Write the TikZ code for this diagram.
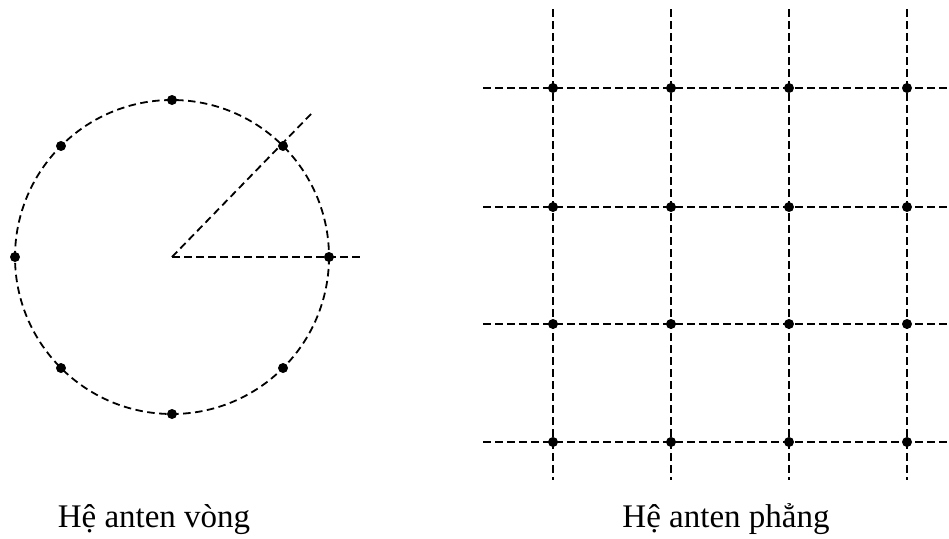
\documentclass[tikz,border=0pt]{standalone}
\usepackage{fontspec}
\setmainfont{Liberation Serif}
\usetikzlibrary{calc}
\begin{document}
\begin{tikzpicture}[x=1pt,y=-1pt,
  dline/.style={line width=1.8pt,dash pattern=on 7.5pt off 4.5pt},
  dot/.style={circle,fill=black,inner sep=0pt,minimum size=10pt},
  lbl/.style={font=\fontsize{33}{36}\selectfont,anchor=base}]
\useasboundingbox (0,0) rectangle (949,538);
% ring array
\coordinate (c) at (172,257);
\draw[dline] (c) circle[radius=157];
\foreach \a [count=\i] in {0,45,...,315}
  \node[dot] (r\i) at ($(c)+(\a:157)$) {};
\coordinate (hend) at (360,257);
\coordinate (dend) at (312,113);
\draw[dline] (c) -- (hend);
\draw[dline] (c) -- (dend);
% planar array
\foreach \x [count=\i] in {553,671,789,907}{
  \coordinate (vt\i) at (\x,9);
  \coordinate (vb\i) at (\x,480);
  \draw[dline] (vt\i) -- (vb\i);
}
\foreach \y [count=\j] in {88,207,324,442}{
  \coordinate (hl\j) at (483,\y);
  \coordinate (hr\j) at (949,\y);
  \draw[dline] (hl\j) -- (hr\j);
}
\foreach \x [count=\i] in {553,671,789,907}
  \foreach \y [count=\j] in {88,207,324,442}
    \node[dot] (p\i\j) at (\x,\y) {};
\node[lbl] (t1) at (154,527) {Hệ anten vòng};
\node[lbl] (t2) at (726,527) {Hệ anten phẳng};
\end{tikzpicture}
\end{document}
